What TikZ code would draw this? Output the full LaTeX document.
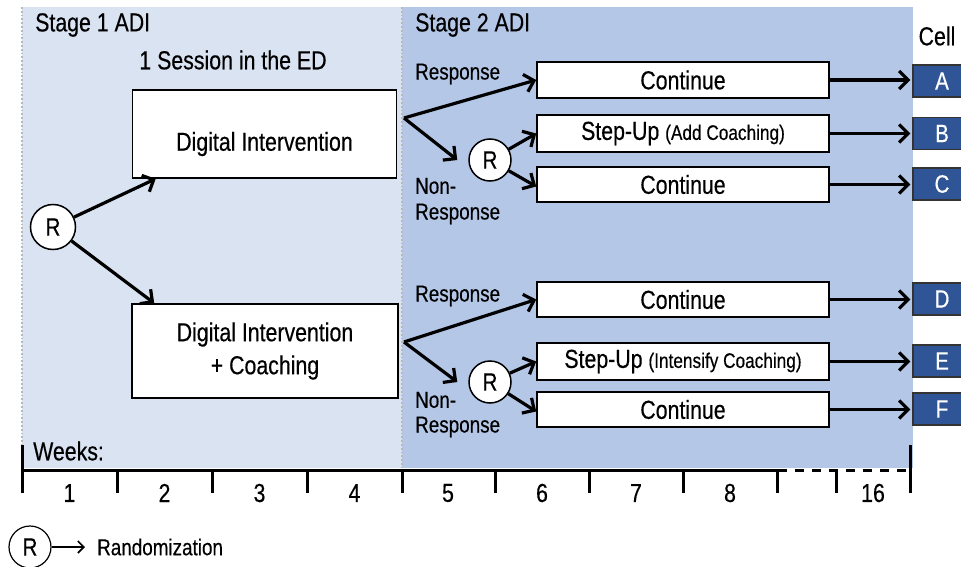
\documentclass[tikz,border=0pt]{standalone}
\usepackage{fontspec}
\setmainfont{Liberation Sans}[FakeStretch=0.82,FakeBold=0.4]
\usetikzlibrary{arrows.meta}
\definecolor{stageA}{HTML}{DAE3F2}
\definecolor{stageB}{HTML}{B4C7E7}
\definecolor{cellc}{HTML}{2F5597}
\begin{document}
\begin{tikzpicture}[x=1pt,y=-1pt,
  box/.style={draw=black,line width=1.6pt,fill=white,inner sep=0pt},
  txt/.style={inner sep=0pt,font=\fontsize{26}{30}\selectfont},
  lbl/.style={inner sep=0pt,anchor=west,font=\fontsize{23}{26}\selectfont},
  rc/.style={circle,draw=black,line width=1.5pt,fill=white,minimum size=42pt,inner sep=0pt,font=\fontsize{25}{28}\selectfont},
  cell/.style={fill=cellc,draw=black!80,line width=1.2pt,minimum width=58pt,minimum height=32pt,inner sep=0pt,text=white,font=\fontsize{25}{28}\selectfont},
  flow/.style={line width=3.2pt,-{Straight Barb[length=9pt,width=18pt]}},
  tl/.style={line width=3pt}
]
\clip (0,0) rectangle (961,567);
\useasboundingbox (0,0) rectangle (961,567);
% backgrounds
\fill[stageA] (22,7) rectangle (402,468);
\fill[stageB] (402,7) rectangle (913,468);
\draw[gray!55,dotted,line width=1.8pt] (22,7) -- (22,468);
\draw[gray!55,dotted,line width=1.8pt] (402,7) -- (402,468);
% headings
\node[txt,anchor=west] (s1) at (35,25) {Stage 1 ADI};
\node[txt] (sess) at (233,60) {1 Session in the ED};
\node[txt,anchor=west] (s2) at (415,25) {Stage 2 ADI};
\node[txt] (cellh) at (937,36) {Cell};
% stage 1
\node[rc,minimum size=45pt] (r1) at (53,227) {R};
\node[box,minimum width=264pt,minimum height=88pt] (di) at (264.5,134) {};
\node[txt] (diT) at (264.5,144) {Digital Intervention};
\node[box,minimum width=266pt,minimum height=94pt,align=center,font=\fontsize{26}{33}\selectfont] (dic) at (265,351) {Digital Intervention\\+ Coaching};
\draw[flow] (r1) -- ([xshift=24pt]di.south west);
\draw[flow] (r1) -- ([xshift=23pt]dic.north west);
% stage 2
\coordinate (b1) at (404,118);
\coordinate (b2) at (404,342);
\node[lbl] (resp1) at (415,74) {Response};
\node[lbl] (non1) at (415,186) {Non-};
\node[lbl] (nresp1) at (415,214) {Response};
\node[lbl] (resp2) at (415,296) {Response};
\node[lbl] (non2) at (415,400) {Non-};
\node[lbl] (nresp2) at (415,427) {Response};
\node[rc] (r2) at (490,160) {R};
\node[rc] (r3) at (490,382) {R};
\node[box,minimum width=292pt,minimum height=36pt,txt] (cA) at (683,80) {Continue};
\node[box,minimum width=292pt,minimum height=37pt,txt] (cB) at (683,133.5) {Step-Up {\fontsize{21}{24}\selectfont(Add Coaching)}};
\node[box,minimum width=292pt,minimum height=35pt,txt] (cC) at (683,184.5) {Continue};
\node[box,minimum width=292pt,minimum height=35pt,txt] (cD) at (683,299.5) {Continue};
\node[box,minimum width=292pt,minimum height=37pt,txt] (cE) at (683,361.5) {Step-Up {\fontsize{21}{24}\selectfont(Intensify Coaching)}};
\node[box,minimum width=292pt,minimum height=35pt,txt] (cF) at (683,409.5) {Continue};
\draw[flow] (b1) -- (cA.west);
\draw[flow] (b1) -- ([xshift=-11pt]r2.west);
\draw[flow] (r2) -- (cB.west);
\draw[flow] (r2) -- ([yshift=-2pt]cC.west);
\draw[flow] (b2) -- (cD.west);
\draw[flow] (b2) -- ([xshift=-11pt]r3.west);
\draw[flow] (r3) -- (cE.west);
\draw[flow] (r3) -- ([yshift=-2pt]cF.west);
% cells
\node[cell] (kA) at (942,81) {A};
\node[cell] (kB) at (942,133.5) {B};
\node[cell] (kC) at (942,184) {C};
\node[cell] (kD) at (942,299) {D};
\node[cell] (kE) at (942,361) {E};
\node[cell] (kF) at (942,409) {F};
\foreach \a/\b in {cA/kA,cB/kB,cC/kC,cD/kD,cE/kE,cF/kF}
  \draw[flow,shorten >=2pt] (\a.east) -- (\a.east -| \b.west);
% timeline
\node[txt,anchor=west] (wk) at (33,451) {Weeks:};
\draw[tl] (22,470) -- (778,470);
\draw[tl,dash pattern=on 9pt off 8pt] (778,470) -- (910,470);
\draw[tl] (22,445) -- (22,493);
\draw[tl] (910,445) -- (910,493);
\foreach \x in {117,212,307,402,495,589,683,777,836}
  \draw[tl] (\x,470) -- (\x,493);
\foreach \x/\t in {69.5/1,164.5/2,259.5/3,354.5/4,448/5,542/6,636/7,730/8,873/16}
  \node[txt] at (\x,493) {\t};
% legend
\node[rc,line width=1.2pt,minimum size=42pt] (rl) at (30,547) {R};
\node[lbl] (rand) at (97,547) {Randomization};
\draw[line width=1.6pt,-{Straight Barb[length=6pt,width=12pt]}] (rl) -- ([xshift=-12pt]rand.west);
\end{tikzpicture}
\end{document}
